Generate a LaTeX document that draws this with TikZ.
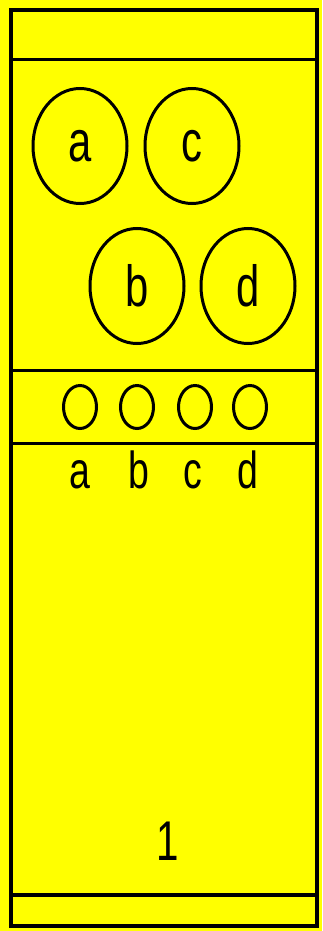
\documentclass[tikz,border=0pt]{standalone}
\usepackage{fontspec}
\setmainfont{Liberation Sans}
\usetikzlibrary{shapes.geometric}
\definecolor{bgyellow}{RGB}{255,255,0}
\newcommand{\narrow}[1]{\scalebox{0.72}[1]{#1}}
\begin{document}
\begin{tikzpicture}[x=1pt,y=-1pt,
  bigring/.style={draw, ellipse, line width=3pt, minimum width=94pt, minimum height=115pt, inner sep=0pt,
    font=\fontsize{58}{58}\selectfont},
  smallring/.style={draw, ellipse, line width=3pt, minimum width=33pt, minimum height=43pt, inner sep=0pt},
  lbl/.style={font=\fontsize{52}{52}\selectfont, inner sep=0pt, anchor=base},
  rulebar/.style={line width=3pt}]
\fill[bgyellow] (0,0) rectangle (322,931);
\useasboundingbox (0,0) rectangle (322,931);
% frame
\draw[line width=3.5pt] (11,10) rectangle (317,926);
\draw[line width=4.5pt] (11,10) -- (310,10);
\coordinate (l1) at (11,60);  \coordinate (r1) at (317,60);
\coordinate (l2) at (11,370); \coordinate (r2) at (317,370);
\coordinate (l3) at (11,443); \coordinate (r3) at (317,443);
\coordinate (l4) at (11,895); \coordinate (r4) at (317,895);
\draw[rulebar] (l1) -- (r1);
\draw[rulebar] (l2) -- (r2);
\draw[rulebar] (l3) -- (r3);
\draw[line width=4pt] (l4) -- (r4);
% big rings
\node[bigring] (A) at (80,146) {\narrow{a}};
\node[bigring] (C) at (192,146) {\narrow{c}};
\node[bigring] (B) at (137,286) {\narrow{b}};
\node[bigring] (D) at (248,286) {\narrow{d}};
% small rings
\node[smallring] (sa) at (80,407) {};
\node[smallring] (sb) at (137,407) {};
\node[smallring] (sc) at (195,407) {};
\node[smallring] (sd) at (250,407) {};
% labels
\node[lbl] (la) at (80,488) {\narrow{a}};
\node[lbl] (lb) at (139,488) {\narrow{b}};
\node[lbl] (lc) at (193,488) {\narrow{c}};
\node[lbl] (ld) at (248,488) {\narrow{d}};
\node[lbl, font=\fontsize{56}{56}\selectfont] (one) at (168,860) {\narrow{1}};
\end{tikzpicture}
\end{document}
